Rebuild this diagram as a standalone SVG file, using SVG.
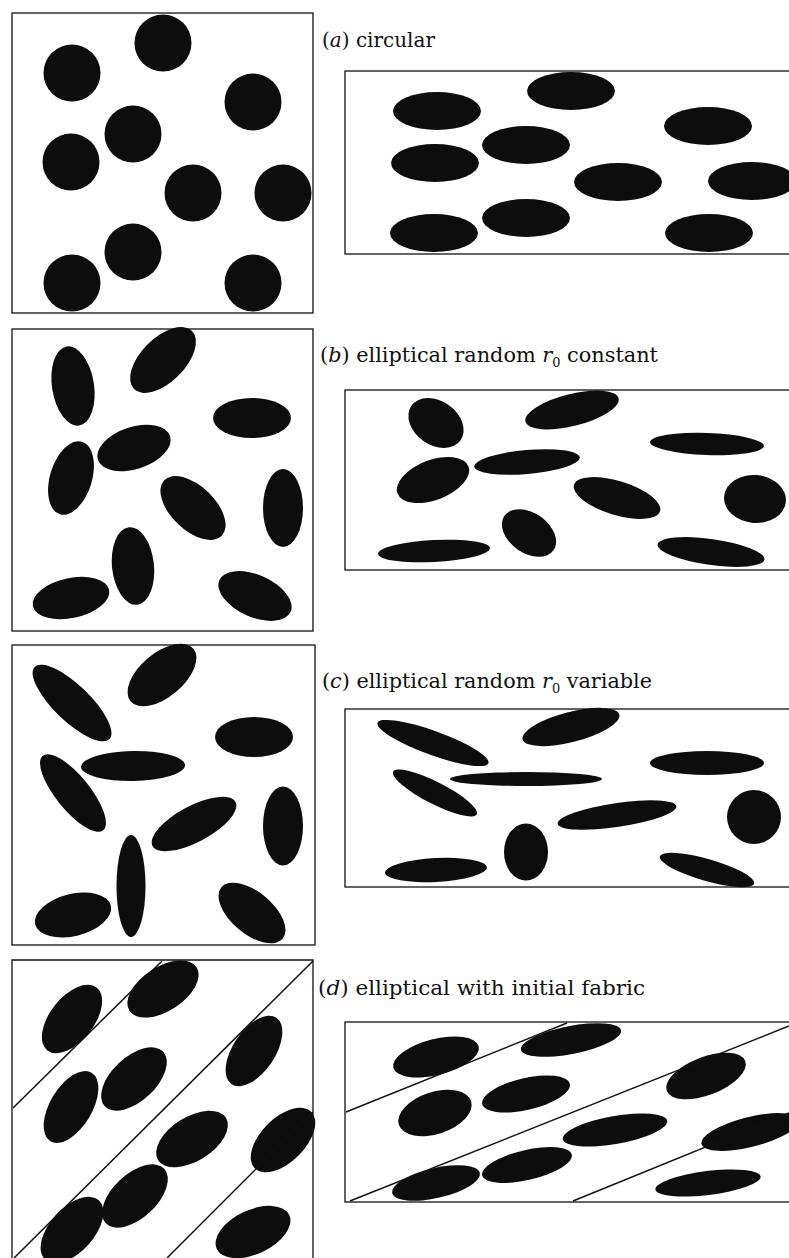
<svg xmlns="http://www.w3.org/2000/svg" width="789" height="1258" viewBox="0 0 789 1258">
<style>
.box{fill:none;stroke:#111;stroke-width:1.3}
.ln{fill:none;stroke:#111;stroke-width:1.5}
ellipse,circle{fill:#0d0d0d}
.lbl{font-family:"DejaVu Serif","Liberation Serif",serif;font-size:21px;fill:#111}
.it{font-style:italic}
.sub{font-size:13px;font-style:normal}
</style>
<rect width="789" height="1258" fill="#fff"/>

<g id="panel-a-left">
<rect class="box" x="12" y="13" width="301" height="300"/>
<circle cx="72" cy="73" r="28.5"/>
<circle cx="163" cy="43" r="28.5"/>
<circle cx="253" cy="102" r="28.5"/>
<circle cx="133" cy="134" r="28.5"/>
<circle cx="71" cy="162" r="28.5"/>
<circle cx="193" cy="193" r="28.5"/>
<circle cx="283" cy="193" r="28.5"/>
<circle cx="133" cy="252" r="28.5"/>
<circle cx="72" cy="283" r="28.5"/>
<circle cx="253" cy="283" r="28.5"/>
</g>

<g id="label-a">
<text class="lbl" x="322" y="47" textLength="113" lengthAdjust="spacingAndGlyphs">(<tspan class="it">a</tspan>) circular</text>
</g>

<g id="panel-a-right">
<rect class="box" x="345" y="71" width="460" height="183"/>
<ellipse cx="437" cy="111" rx="44" ry="19"/>
<ellipse cx="571" cy="91" rx="44" ry="19"/>
<ellipse cx="708" cy="126" rx="44" ry="19"/>
<ellipse cx="526" cy="145" rx="44" ry="19"/>
<ellipse cx="435" cy="163" rx="44" ry="19"/>
<ellipse cx="618" cy="182" rx="44" ry="19"/>
<ellipse cx="752" cy="181" rx="44" ry="19"/>
<ellipse cx="526" cy="218" rx="44" ry="19"/>
<ellipse cx="434" cy="233" rx="44" ry="19"/>
<ellipse cx="709" cy="233" rx="44" ry="19"/>
</g>

<g id="panel-b-left">
<rect class="box" x="12" y="329" width="301" height="302"/>
<ellipse cx="73" cy="386" rx="40" ry="21" transform="rotate(81 73 386)"/>
<ellipse cx="163" cy="360" rx="41" ry="22" transform="rotate(-45 163 360)"/>
<ellipse cx="252" cy="418" rx="39" ry="20"/>
<ellipse cx="134" cy="448" rx="38" ry="21" transform="rotate(-18 134 448)"/>
<ellipse cx="71" cy="478" rx="38" ry="21" transform="rotate(-73 71 478)"/>
<ellipse cx="193" cy="508" rx="40" ry="22" transform="rotate(44 193 508)"/>
<ellipse cx="283" cy="508" rx="39" ry="20" transform="rotate(90 283 508)"/>
<ellipse cx="133" cy="566" rx="39" ry="21" transform="rotate(84 133 566)"/>
<ellipse cx="71" cy="598" rx="39" ry="20" transform="rotate(-12 71 598)"/>
<ellipse cx="255" cy="596" rx="39" ry="21" transform="rotate(24 255 596)"/>
</g>

<g id="label-b">
<text class="lbl" x="320" y="362" textLength="338" lengthAdjust="spacingAndGlyphs">(<tspan class="it">b</tspan>) elliptical random <tspan class="it">r</tspan><tspan class="sub" dy="5">0</tspan><tspan dy="-5"> constant</tspan></text>
</g>

<g id="panel-b-right">
<rect class="box" x="345" y="390" width="460" height="180"/>
<ellipse cx="436" cy="423" rx="30" ry="22" transform="rotate(35 436 423)"/>
<ellipse cx="572" cy="410" rx="48" ry="16" transform="rotate(-14 572 410)"/>
<ellipse cx="707" cy="444" rx="57" ry="11" transform="rotate(2 707 444)"/>
<ellipse cx="433" cy="480" rx="38" ry="20" transform="rotate(-21 433 480)"/>
<ellipse cx="527" cy="462" rx="53" ry="12" transform="rotate(-5 527 462)"/>
<ellipse cx="617" cy="498" rx="45" ry="17" transform="rotate(17 617 498)"/>
<ellipse cx="755" cy="499" rx="31" ry="24" transform="rotate(5 755 499)"/>
<ellipse cx="529" cy="533" rx="30" ry="20" transform="rotate(35 529 533)"/>
<ellipse cx="434" cy="551" rx="56" ry="11" transform="rotate(-3 434 551)"/>
<ellipse cx="711" cy="552" rx="54" ry="13" transform="rotate(8 711 552)"/>
</g>

<g id="panel-c-left">
<rect class="box" x="12" y="645" width="303" height="300"/>
<ellipse cx="72" cy="703" rx="52" ry="18" transform="rotate(44 72 703)"/>
<ellipse cx="162" cy="675" rx="41" ry="22" transform="rotate(-40 162 675)"/>
<ellipse cx="254" cy="737" rx="39" ry="20"/>
<ellipse cx="133" cy="766" rx="52" ry="15" transform="rotate(-1 133 766)"/>
<ellipse cx="73" cy="793" rx="48" ry="17" transform="rotate(51 73 793)"/>
<ellipse cx="194" cy="824" rx="47" ry="18" transform="rotate(-28 194 824)"/>
<ellipse cx="283" cy="826" rx="39.5" ry="20" transform="rotate(90 283 826)"/>
<ellipse cx="131" cy="886" rx="51" ry="14.5" transform="rotate(90 131 886)"/>
<ellipse cx="73" cy="915" rx="39" ry="21" transform="rotate(-14 73 915)"/>
<ellipse cx="252" cy="913" rx="40" ry="21" transform="rotate(40 252 913)"/>
</g>

<g id="label-c">
<text class="lbl" x="322" y="688" textLength="330" lengthAdjust="spacingAndGlyphs">(<tspan class="it">c</tspan>) elliptical random <tspan class="it">r</tspan><tspan class="sub" dy="5">0</tspan><tspan dy="-5"> variable</tspan></text>
</g>

<g id="panel-c-right">
<rect class="box" x="345" y="709" width="460" height="178"/>
<ellipse cx="433" cy="743" rx="59" ry="12" transform="rotate(20 433 743)"/>
<ellipse cx="571" cy="727" rx="50" ry="15" transform="rotate(-14.5 571 727)"/>
<ellipse cx="707" cy="763" rx="57" ry="12"/>
<ellipse cx="435" cy="793" rx="47" ry="11" transform="rotate(27 435 793)"/>
<ellipse cx="526" cy="779" rx="76" ry="7"/>
<ellipse cx="617" cy="815" rx="60" ry="12" transform="rotate(-8.4 617 815)"/>
<circle cx="754" cy="817" r="27"/>
<ellipse cx="526" cy="852" rx="22" ry="28.5"/>
<ellipse cx="436" cy="870" rx="51" ry="12" transform="rotate(-3 436 870)"/>
<ellipse cx="707" cy="870" rx="49" ry="11" transform="rotate(16 707 870)"/>
</g>

<g id="panel-d-left">
<ellipse cx="72" cy="1019" rx="40" ry="22" transform="rotate(-52 72 1019)"/>
<ellipse cx="163" cy="989" rx="40" ry="22" transform="rotate(-33 163 989)"/>
<ellipse cx="71" cy="1107" rx="40" ry="21" transform="rotate(-59 71 1107)"/>
<ellipse cx="134" cy="1079" rx="40" ry="22" transform="rotate(-43 134 1079)"/>
<ellipse cx="254" cy="1051" rx="40" ry="21" transform="rotate(-56 254 1051)"/>
<ellipse cx="192" cy="1139" rx="40" ry="22" transform="rotate(-32 192 1139)"/>
<ellipse cx="283" cy="1140" rx="40" ry="22" transform="rotate(-45 283 1140)"/>
<ellipse cx="135" cy="1196" rx="40" ry="22" transform="rotate(-43 135 1196)"/>
<ellipse cx="72" cy="1230" rx="40" ry="22" transform="rotate(-48 72 1230)"/>
<ellipse cx="253" cy="1232" rx="40" ry="22" transform="rotate(-25 253 1232)"/>
<path class="box" d="M12 1262 V960 H313 V1262"/>
<line class="ln" x1="13" y1="1108" x2="162" y2="961"/>
<line class="ln" x1="313" y1="961" x2="14" y2="1258"/>
<line class="ln" x1="313" y1="1112" x2="167" y2="1258"/>
</g>

<g id="label-d">
<text class="lbl" x="318" y="995" textLength="327" lengthAdjust="spacingAndGlyphs">(<tspan class="it">d</tspan>) elliptical with initial fabric</text>
</g>

<g id="panel-d-right">
<ellipse cx="436" cy="1057" rx="44" ry="18" transform="rotate(-14 436 1057)"/>
<ellipse cx="571" cy="1040" rx="51" ry="14" transform="rotate(-11 571 1040)"/>
<ellipse cx="706" cy="1076" rx="42" ry="19" transform="rotate(-21 706 1076)"/>
<ellipse cx="435" cy="1113" rx="38" ry="21" transform="rotate(-18 435 1113)"/>
<ellipse cx="526" cy="1094" rx="45" ry="16" transform="rotate(-13 526 1094)"/>
<ellipse cx="615" cy="1130" rx="53" ry="14" transform="rotate(-10 615 1130)"/>
<ellipse cx="750" cy="1132" rx="50" ry="15" transform="rotate(-14 750 1132)"/>
<ellipse cx="527" cy="1165" rx="46" ry="15" transform="rotate(-13 527 1165)"/>
<ellipse cx="436" cy="1183" rx="45" ry="15" transform="rotate(-13 436 1183)"/>
<ellipse cx="708" cy="1183" rx="53" ry="12" transform="rotate(-7 708 1183)"/>
<rect class="box" x="345" y="1022" width="460" height="180"/>
<line class="ln" x1="346" y1="1112" x2="567" y2="1023"/>
<line class="ln" x1="350" y1="1201" x2="789" y2="1026"/>
<line class="ln" x1="573" y1="1201" x2="789" y2="1113"/>
</g>
</svg>
